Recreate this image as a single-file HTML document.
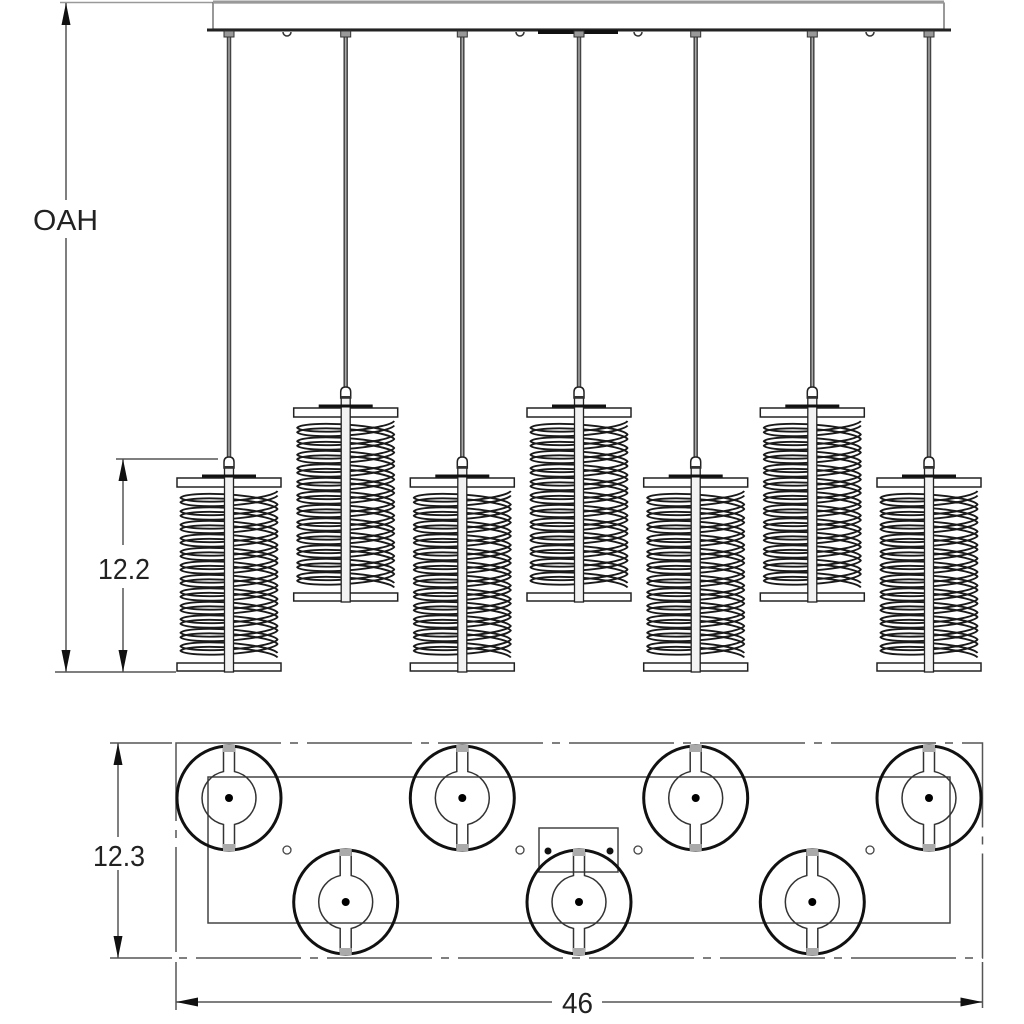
<!DOCTYPE html>
<html><head><meta charset="utf-8"><style>
html,body{margin:0;padding:0;background:#fff;}
svg{display:block}
text{font-family:"Liberation Sans",sans-serif;fill:#222;font-size:29px}
.hx{fill:none;stroke:#1a1a1a;stroke-width:1.9;stroke-linejoin:round}
.dl{stroke:#555;stroke-width:1.5;fill:none}
</style></head><body>
<svg width="1024" height="1024" viewBox="0 0 1024 1024" xmlns="http://www.w3.org/2000/svg" xmlns:xlink="http://www.w3.org/1999/xlink">
<defs>
<path id="hel" d="M48.5,13 a49,7.5 -3.94 0 1 -97,6.75 a49,7.5 3.94 0 1 97,6.75 a49,7.5 -3.94 0 1 -97,6.75 a49,7.5 3.94 0 1 97,6.75 a49,7.5 -3.94 0 1 -97,6.75 a49,7.5 3.94 0 1 97,6.75 a49,7.5 -3.94 0 1 -97,6.75 a49,7.5 3.94 0 1 97,6.75 a49,7.5 -3.94 0 1 -97,6.75 a49,7.5 3.94 0 1 97,6.75 a49,7.5 -3.94 0 1 -97,6.75 a49,7.5 3.94 0 1 97,6.75 a49,7.5 -3.94 0 1 -97,6.75 a49,7.5 3.94 0 1 97,6.75 a49,7.5 -3.94 0 1 -97,6.75 a49,7.5 3.94 0 1 97,6.75 a49,7.5 -3.94 0 1 -97,6.75 a49,7.5 3.94 0 1 97,6.75 a49,7.5 -3.94 0 1 -97,6.75 a49,7.5 3.94 0 1 97,6.75 a49,7.5 -3.94 0 1 -97,6.75 a49,7.5 3.94 0 1 97,6.75 a49,7.5 -3.94 0 1 -97,6.75 a49,7.5 3.94 0 1 97,6.75"/>
<g id="pd">
  <use href="#hel" xlink:href="#hel" class="hx"/>
  <use href="#hel" xlink:href="#hel" class="hx" transform="translate(0,4.5)"/>
  <rect x="-52" y="0" width="104" height="9" fill="#fff" stroke="#222" stroke-width="1.5"/>
  <rect x="-52" y="185" width="104" height="8" fill="#fff" stroke="#222" stroke-width="1.5"/>
  <rect x="-4.5" y="-11" width="9" height="205" fill="#f2f2f2" stroke="#222" stroke-width="1.3"/>
  <rect x="-27" y="-3.5" width="54" height="3" fill="#111"/>
  <path d="M-5,-10 V-16 Q-5,-21 0,-21 Q5,-21 5,-16 V-10 Z" fill="#fff" stroke="#222" stroke-width="1.5"/>
  <rect x="-5" y="-12" width="10" height="2.5" fill="#333"/>
</g>
<g id="kh">
  <circle r="52" fill="none" stroke="#111" stroke-width="3"/>
  <path d="M-5.5,-50 V-26.43 A27,27 0 0 0 -5.5,26.43 V50 M5.5,50 V26.43 A27,27 0 0 0 5.5,-26.43 V-50" fill="none" stroke="#333" stroke-width="1.5"/>
  <rect x="-6" y="-53" width="12" height="7" fill="#aaa"/>
  <rect x="-6" y="46" width="12" height="7" fill="#aaa"/>
  <circle r="4" fill="#000"/>
</g>
<g id="stemc">
  <rect x="-5" y="31" width="10" height="6" fill="#999" stroke="#333" stroke-width="1"/>
</g>
</defs>

<!-- canopy -->
<line x1="60" y1="2.5" x2="213" y2="2.5" stroke="#999" stroke-width="1.5"/>
<rect x="213" y="3" width="731" height="26" fill="#fff" stroke="#555" stroke-width="1.2"/>
<line x1="213" y1="2" x2="944" y2="2" stroke="#999" stroke-width="3"/>
<line x1="207" y1="30" x2="951" y2="30" stroke="#222" stroke-width="3"/>
<rect x="538" y="30" width="80" height="4" fill="#111"/>
<g fill="none" stroke="#333" stroke-width="1.5">
  <path d="M283,32 a4,4 0 0 0 8,0"/>
  <path d="M516,32 a4,4 0 0 0 8,0"/>
  <path d="M634,32 a4,4 0 0 0 8,0"/>
  <path d="M866,32 a4,4 0 0 0 8,0"/>
</g>

<!-- stems -->
<g stroke="#444" stroke-width="4.5">
  <line x1="229" y1="36" x2="229" y2="458"/>
  <line x1="345.7" y1="36" x2="345.7" y2="388"/>
  <line x1="462.3" y1="36" x2="462.3" y2="458"/>
  <line x1="579" y1="36" x2="579" y2="388"/>
  <line x1="695.7" y1="36" x2="695.7" y2="458"/>
  <line x1="812.3" y1="36" x2="812.3" y2="388"/>
  <line x1="929" y1="36" x2="929" y2="458"/>
</g>
<g stroke="#aaa" stroke-width="1.5">
  <line x1="229" y1="37" x2="229" y2="457"/>
  <line x1="345.7" y1="37" x2="345.7" y2="387"/>
  <line x1="462.3" y1="37" x2="462.3" y2="457"/>
  <line x1="579" y1="37" x2="579" y2="387"/>
  <line x1="695.7" y1="37" x2="695.7" y2="457"/>
  <line x1="812.3" y1="37" x2="812.3" y2="387"/>
  <line x1="929" y1="37" x2="929" y2="457"/>
</g>
<use href="#stemc" xlink:href="#stemc" transform="translate(229,0)"/>
<use href="#stemc" xlink:href="#stemc" transform="translate(345.7,0)"/>
<use href="#stemc" xlink:href="#stemc" transform="translate(462.3,0)"/>
<use href="#stemc" xlink:href="#stemc" transform="translate(579,0)"/>
<use href="#stemc" xlink:href="#stemc" transform="translate(695.7,0)"/>
<use href="#stemc" xlink:href="#stemc" transform="translate(812.3,0)"/>
<use href="#stemc" xlink:href="#stemc" transform="translate(929,0)"/>

<!-- pendants -->
<use href="#pd" xlink:href="#pd" transform="translate(229,478)"/>
<use href="#pd" xlink:href="#pd" transform="translate(345.7,408)"/>
<use href="#pd" xlink:href="#pd" transform="translate(462.3,478)"/>
<use href="#pd" xlink:href="#pd" transform="translate(579,408)"/>
<use href="#pd" xlink:href="#pd" transform="translate(695.7,478)"/>
<use href="#pd" xlink:href="#pd" transform="translate(812.3,408)"/>
<use href="#pd" xlink:href="#pd" transform="translate(929,478)"/>

<!-- OAH dimension -->
<line class="dl" x1="66" y1="3" x2="66" y2="200"/>
<line class="dl" x1="66" y1="238" x2="66" y2="672"/>
<polygon points="66,3 61.5,25 70.5,25" fill="#111"/>
<polygon points="66,672 61.5,650 70.5,650" fill="#111"/>
<line class="dl" x1="55" y1="672" x2="176" y2="672"/>
<text x="33" y="230" textLength="65" lengthAdjust="spacingAndGlyphs">OAH</text>

<!-- 12.2 dimension -->
<line class="dl" x1="116" y1="459" x2="218" y2="459"/>
<line class="dl" x1="123" y1="459" x2="123" y2="545"/>
<line class="dl" x1="123" y1="588" x2="123" y2="672"/>
<polygon points="123,459 118.5,481 127.5,481" fill="#111"/>
<polygon points="123,672 118.5,650 127.5,650" fill="#111"/>
<text x="98" y="579" textLength="52" lengthAdjust="spacingAndGlyphs">12.2</text>

<!-- plan view -->
<rect x="176" y="743" width="806.5" height="215" fill="none" stroke="#555" stroke-width="1.5" stroke-dasharray="105 9 8 9"/>
<rect x="208" y="777" width="742" height="146" fill="none" stroke="#444" stroke-width="1.5"/>
<rect x="539" y="828" width="79" height="44" fill="none" stroke="#444" stroke-width="1.5"/>
<circle cx="548" cy="851" r="3.5" fill="#111"/>
<circle cx="610" cy="851" r="3.5" fill="#111"/>
<g fill="#fff" stroke="#444" stroke-width="1.3">
  <circle cx="287" cy="850" r="4"/>
  <circle cx="520" cy="850" r="4"/>
  <circle cx="638" cy="850" r="4"/>
  <circle cx="870" cy="850" r="4"/>
</g>
<use href="#kh" xlink:href="#kh" transform="translate(229,798)"/>
<use href="#kh" xlink:href="#kh" transform="translate(462.3,798)"/>
<use href="#kh" xlink:href="#kh" transform="translate(695.7,798)"/>
<use href="#kh" xlink:href="#kh" transform="translate(929,798)"/>
<use href="#kh" xlink:href="#kh" transform="translate(345.7,902)"/>
<use href="#kh" xlink:href="#kh" transform="translate(579,902)"/>
<use href="#kh" xlink:href="#kh" transform="translate(812.3,902)"/>

<!-- 12.3 dimension -->
<line class="dl" x1="110" y1="743" x2="172" y2="743"/>
<line class="dl" x1="110" y1="958" x2="172" y2="958"/>
<line class="dl" x1="118" y1="743" x2="118" y2="837"/>
<line class="dl" x1="118" y1="870" x2="118" y2="958"/>
<polygon points="118,743 113.5,765 122.5,765" fill="#111"/>
<polygon points="118,958 113.5,936 122.5,936" fill="#111"/>
<text x="93" y="866" textLength="52" lengthAdjust="spacingAndGlyphs">12.3</text>

<!-- 46 dimension -->
<line class="dl" x1="176" y1="962" x2="176" y2="1010"/>
<line class="dl" x1="982.5" y1="962" x2="982.5" y2="1008"/>
<line class="dl" x1="176" y1="1002" x2="552" y2="1002"/>
<line class="dl" x1="602" y1="1002" x2="982.5" y2="1002"/>
<polygon points="176,1002 198,997.5 198,1006.5" fill="#111"/>
<polygon points="982.5,1002 960.5,997.5 960.5,1006.5" fill="#111"/>
<text x="562" y="1013" textLength="31" lengthAdjust="spacingAndGlyphs">46</text>
</svg>
</body></html>
